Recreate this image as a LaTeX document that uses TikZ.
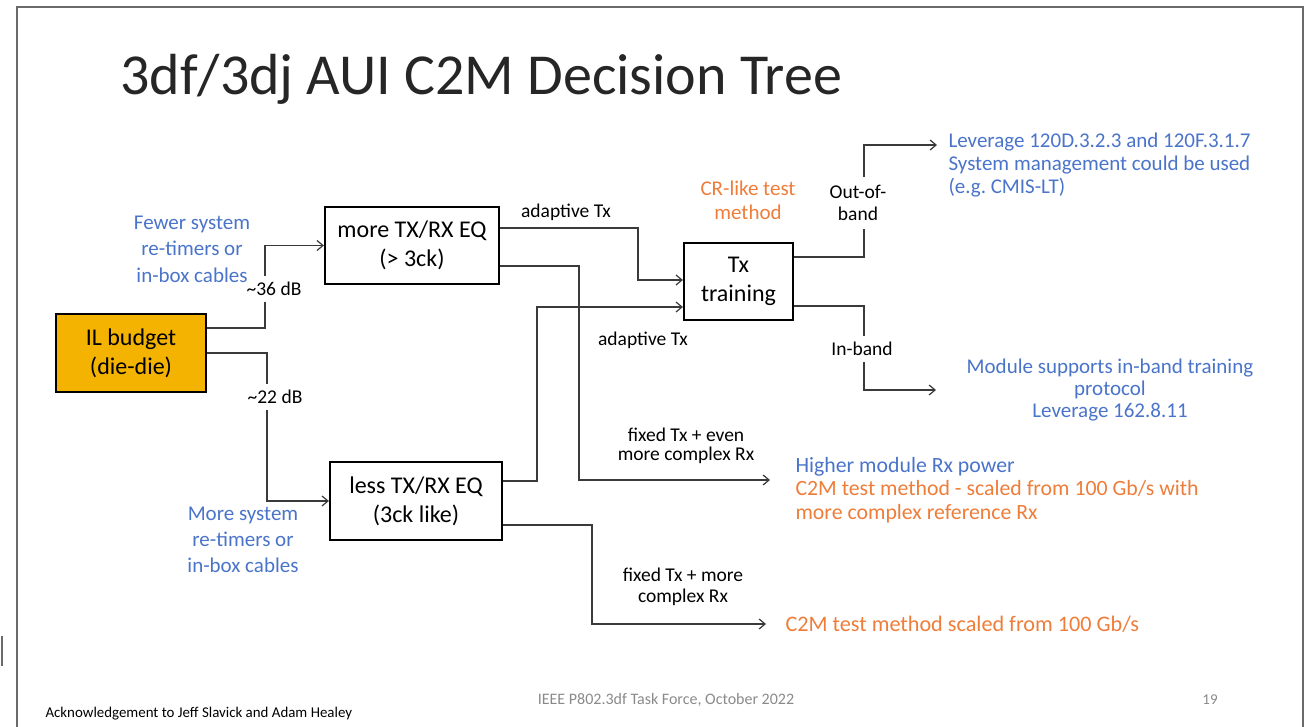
\documentclass[tikz,border=0pt]{standalone}
\usepackage{fontspec}
\setmainfont{Carlito}
\usetikzlibrary{arrows.meta}
\definecolor{noteblue}{HTML}{4A74C9}
\definecolor{noteorange}{HTML}{EE7D3A}
\definecolor{boxgold}{HTML}{F5B301}
\definecolor{wire}{HTML}{3A3A3A}
\definecolor{framegray}{HTML}{6A6A6A}
\definecolor{footgray}{HTML}{8A8A8A}
\tikzset{
  eqbox/.style={draw=black, line width=2.2pt, rectangle, align=center,
    inner sep=0pt, font=\fontsize{24}{29}\selectfont},
  conn/.style={draw=wire, line width=1.3pt,
    -{Straight Barb[length=6pt,width=10pt,line width=1.2pt]}},
  edgelabel/.style={font=\fontsize{19.5}{22}\selectfont, align=center, text=black},
  gaplabel/.style={edgelabel, fill=white, inner xsep=2pt, inner ysep=6pt},
  bluenote/.style={text=noteblue, font=\fontsize{21}{26.5}\selectfont, align=center},
  outcome/.style={font=\fontsize{21.5}{23.5}\selectfont, align=left, anchor=west}
}
\begin{document}
\begin{tikzpicture}[x=1pt,y=-1pt]
\useasboundingbox (0,0) rectangle (1314,727);

% slide frame
\draw[framegray, line width=2pt] (17,740) -- (17,7) -- (1303,7) -- (1303,740);
\draw[framegray, line width=1.5pt] (2,636) -- (2,666);

% title
\node[anchor=base west, inner sep=0pt, font=\fontsize{58}{64}\selectfont, text=black!85]
  (title) at (120,95) {3df/3dj AUI C2M Decision Tree};

% decision boxes
\node[eqbox, fill=boxgold, minimum width=150pt, minimum height=78pt] (il) at (131,353) {IL budget\\(die-die)};
\node[eqbox, minimum width=174pt, minimum height=77pt] (more) at (412,245.5) {more TX/RX EQ\\(> 3ck)};
\node[eqbox, minimum width=172pt, minimum height=78pt] (less) at (416,501) {less TX/RX EQ\\(3ck like)};
\node[eqbox, minimum width=109pt, minimum height=77pt] (tx) at (738.5,281.5) {Tx\\training};

% free ends of the outcome arrows
\coordinate (hi) at (770,480);
\coordinate (sc) at (766,624);
\coordinate (ob) at (937,145);
\coordinate (ib) at (936,390);

% connectors
\draw[conn] ([yshift=25pt]il.east) -| ([xshift=-59pt]more.west) -- (more.west);
\draw[conn] (il.east) -| ([xshift=-62pt]less.west) -- (less.west);
\draw[conn] ([yshift=17.5pt]more.east) -| ([xshift=-45pt,yshift=1.5pt]tx.west) -- ([yshift=1.5pt]tx.west);
\draw[conn] ([yshift=20pt]less.east) -| ([xshift=-146pt,yshift=-25.5pt]tx.west) -- ([yshift=-25.5pt]tx.west);
\draw[conn] ([yshift=-20.5pt]more.east) -| ([xshift=-191pt]hi) -- (hi);
\draw[conn] ([yshift=-24pt]less.east) -| ([xshift=-174pt]sc) -- (sc);
\draw[conn] ([yshift=24.5pt]tx.east) -| ([xshift=-73pt]ob) -- (ob);
\draw[conn] ([yshift=-24.5pt]tx.east) -| ([xshift=-72pt]ib) -- (ib);

% labels sitting on the lines
\node[gaplabel] (db36) at (274,289) {\textasciitilde36 dB};
\node[gaplabel] (db22) at (275,397) {\textasciitilde22 dB};
\node[gaplabel, inner ysep=8pt] (oob) at (858,203) {Out-of-\\band};
\node[gaplabel, inner ysep=6pt] (inb) at (862,349) {In-band};

% labels beside the lines
\node[edgelabel] (adtop) at (566,212) {adaptive Tx};
\node[edgelabel] (adbot) at (643,340) {adaptive Tx};
\node[edgelabel, font=\fontsize{19.5}{19}\selectfont] (fixeven) at (686,446) {fixed Tx + even\\more complex Rx};
\node[edgelabel, font=\fontsize{19.5}{21}\selectfont] (fixmore) at (683,587) {fixed Tx + more\\complex Rx};

% notes
\node[bluenote] (fewer) at (192,249) {Fewer system\\re-timers or\\in-box cables};
\node[bluenote, font=\fontsize{21}{26}\selectfont] (moresys) at (243,540) {More system\\re-timers or\\in-box cables};
\node[text=noteorange, align=center, font=\fontsize{21}{24}\selectfont] (crlike) at (748,200) {CR-like test\\method};

% outcomes
\node[outcome, text=noteblue, font=\fontsize{21}{23}\selectfont] (lev) at (945,165)
  {Leverage 120D.3.2.3 and 120F.3.1.7\\System management could be used\\(e.g.\ CMIS-LT)};
\node[text=noteblue, align=center, font=\fontsize{21}{22}\selectfont] (module) at (1110,390)
  {Module supports in-band training\\protocol\\Leverage 162.8.11};
\node[outcome, font=\fontsize{21.8}{23.5}\selectfont] (higher) at (792,490)
  {\textcolor{noteblue}{Higher module Rx power}\\
   \textcolor{noteorange}{C2M test method - scaled from 100 Gb/s with}\\
   \textcolor{noteorange}{more complex reference Rx}};
\node[outcome, text=noteorange, font=\fontsize{22.2}{24}\selectfont] (scaled) at (782,624) {C2M test method scaled from 100 Gb/s};

% footer
\node[anchor=west, font=\fontsize{14.9}{16}\selectfont] (ack) at (42,714) {Acknowledgement to Jeff Slavick and Adam Healey};
\node[text=footgray, font=\fontsize{16}{18}\selectfont] (event) at (666,700) {IEEE P802.3df Task Force, October 2022};
\node[text=footgray, font=\fontsize{15}{17}\selectfont] (page) at (1210,700) {19};
\end{tikzpicture}
\end{document}
